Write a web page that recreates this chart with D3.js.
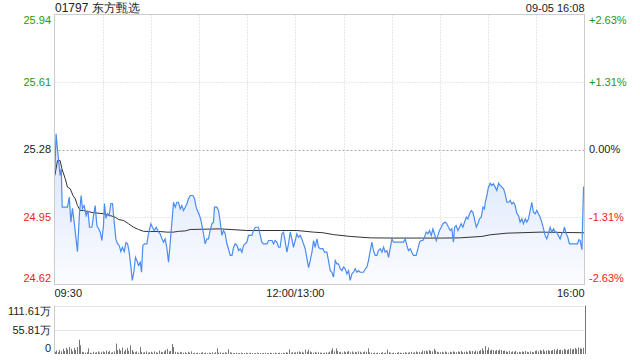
<!DOCTYPE html>
<html>
<head>
<meta charset="utf-8">
<script src="https://cdn.jsdelivr.net/npm/d3@7"></script>
<style>
  body { margin: 0; background: #fff; }
  svg { display: block; font-family: "Liberation Sans", Arial, sans-serif; }
</style>
</head>
<body>
<div id="chart"></div>
<script>
// trading minutes since 09:30 (lunch break skipped), price
const pricePoints = [
  [0.2,25.169],[1.0,25.357],[1.8,25.285],[2.7,25.218],[3.5,25.153],[4.2,25.187],[4.8,24.998],[6.7,24.998],
  [8.1,24.998],[9.2,25.047],[10.2,24.925],[11.2,24.992],[12.5,24.908],[14.3,24.781],[15.6,24.973],[16.6,25.055],
  [17.4,24.992],[18.5,25.006],[19.7,24.957],[20.8,24.982],[21.8,24.900],[23.3,24.900],[24.3,24.957],[25.3,25.006],
  [26.4,24.908],[27.4,24.894],[28.5,24.876],[29.5,24.835],[30.5,24.908],[31.1,25.016],[32.0,24.943],[33.0,24.967],
  [34.0,24.957],[35.1,25.016],[36.1,25.016],[37.2,24.925],[38.2,24.843],[39.2,24.820],[40.3,24.811],[41.3,24.781],
  [42.3,24.802],[43.4,24.781],[44.5,24.825],[45.5,24.819],[46.5,24.778],[47.6,24.705],[48.4,24.640],[49.4,24.680],
  [50.4,24.753],[51.3,24.737],[52.3,24.713],[53.4,24.729],[54.2,24.680],[55.0,24.811],[56.0,24.819],[57.5,24.819],
  [58.5,24.868],[60.0,24.917],[61.0,24.900],[62.1,24.884],[63.3,24.900],[64.8,24.876],[65.8,24.868],[66.9,24.843],
  [67.9,24.827],[68.9,24.843],[70.0,24.795],[71.0,24.729],[72.0,24.819],[73.1,24.925],[74.1,25.022],[75.2,24.998],
  [76.2,25.022],[77.2,25.022],[78.3,24.990],[79.3,25.006],[80.3,24.982],[81.4,24.998],[82.4,25.014],[83.4,25.039],
  [84.5,25.055],[86.2,25.055],[87.2,25.039],[88.2,24.998],[89.0,24.982],[90.3,24.957],[91.2,24.933],[92.0,24.900],
  [92.8,24.868],[93.8,24.819],[94.9,24.843],[95.9,24.843],[96.9,24.884],[98.0,24.917],[99.0,24.925],[99.6,24.998],
  [101.1,24.998],[102.1,24.982],[103.2,24.925],[104.2,24.860],[105.2,24.884],[106.3,24.868],[107.3,24.819],[108.3,24.795],
  [109.4,24.762],[110.5,24.762],[111.5,24.802],[112.5,24.819],[113.6,24.811],[114.6,24.786],[115.6,24.795],[116.7,24.778],
  [117.7,24.811],[118.7,24.819],[119.8,24.827],[120.8,24.860],[122.9,24.860],[123.9,24.884],[125.0,24.900],[127.0,24.900],
  [128.1,24.860],[129.1,24.827],[130.1,24.819],[132.3,24.819],[133.3,24.835],[135.4,24.835],[136.4,24.819],[137.4,24.835],
  [138.5,24.827],[139.5,24.802],[140.5,24.802],[141.6,24.868],[142.6,24.876],[143.7,24.827],[144.7,24.778],[145.7,24.819],
  [146.8,24.876],[147.8,24.843],[148.8,24.802],[149.9,24.835],[150.9,24.868],[151.9,24.851],[153.0,24.860],[154.0,24.843],
  [155.0,24.819],[156.1,24.795],[157.2,24.746],[158.2,24.702],[159.2,24.737],[160.3,24.778],[161.3,24.835],[162.3,24.802],
  [163.4,24.843],[164.4,24.802],[165.4,24.795],[167.1,24.795],[168.1,24.778],[169.6,24.778],[170.6,24.737],[171.7,24.688],
  [172.7,24.680],[173.7,24.656],[174.8,24.737],[175.8,24.721],[176.8,24.721],[177.9,24.697],[179.0,24.688],[180.0,24.705],
  [181.0,24.697],[182.1,24.672],[183.1,24.688],[184.1,24.640],[185.2,24.672],[186.2,24.680],[187.2,24.697],[188.3,24.680],
  [189.3,24.688],[190.3,24.680],[192.4,24.680],[193.5,24.697],[194.5,24.705],[195.5,24.737],[196.6,24.786],[197.6,24.827],
  [198.6,24.786],[199.7,24.762],[200.7,24.762],[201.7,24.786],[202.8,24.795],[203.9,24.778],[204.9,24.802],[205.9,24.778],
  [207.0,24.786],[208.0,24.753],[209.0,24.795],[210.1,24.843],[211.1,24.827],[217.3,24.827],[218.4,24.843],[219.4,24.811],
  [220.4,24.786],[221.5,24.795],[222.5,24.778],[223.5,24.762],[225.2,24.762],[226.3,24.795],[227.3,24.827],[228.3,24.835],
  [229.4,24.835],[230.4,24.851],[231.4,24.876],[232.5,24.868],[233.5,24.884],[234.6,24.860],[235.6,24.892],[236.6,24.868],
  [237.7,24.835],[238.7,24.860],[239.7,24.884],[240.8,24.900],[241.8,24.917],[243.3,24.925],[244.3,24.917],[245.3,24.900],
  [246.4,24.884],[247.4,24.892],[248.4,24.827],[249.1,24.900],[250.1,24.908],[251.2,24.884],[252.2,24.900],[253.2,24.917],
  [254.3,24.900],[255.3,24.925],[256.4,24.949],[257.4,24.941],[258.4,24.966],[259.5,24.982],[260.5,24.973],[261.5,24.941],
  [262.6,24.900],[263.6,24.917],[264.6,24.941],[265.7,24.949],[266.8,24.998],[267.7,24.990],[268.2,25.022],[269.2,25.055],
  [270.2,25.096],[271.3,25.115],[272.3,25.104],[273.3,25.112],[274.4,25.096],[275.4,25.080],[276.5,25.115],[277.5,25.104],
  [278.6,25.096],[279.6,25.088],[280.6,25.063],[281.7,25.022],[282.7,25.022],[283.7,25.031],[284.8,25.014],[285.8,25.022],
  [286.8,25.006],[287.9,24.966],[288.9,24.957],[289.9,24.925],[291.0,24.941],[292.0,24.917],[293.1,24.941],[294.1,24.925],
  [295.1,24.941],[296.2,24.982],[297.2,25.022],[298.2,24.973],[299.3,24.966],[300.3,24.982],[301.3,24.966],[302.4,24.949],
  [303.4,24.925],[304.5,24.892],[305.5,24.860],[306.5,24.843],[307.5,24.868],[308.6,24.900],[309.6,24.876],[310.7,24.892],
  [311.7,24.876],[312.7,24.876],[313.7,24.860],[314.8,24.843],[315.8,24.868],[316.8,24.876],[317.5,24.900],[318.6,24.868],
  [319.6,24.851],[320.6,24.819],[325.6,24.819],[326.5,24.839],[327.3,24.835],[328.4,24.790],[329.4,25.096],[330,25.096]
];

// running average price
const avgPoints = [
  [0.2,25.153],[1.9,25.226],[3.5,25.226],[4.6,25.186],[6.7,25.137],[8.1,25.096],[9.8,25.088],[11.5,25.055],
  [12.9,25.039],[14.3,25.006],[16.0,24.982],[18.1,24.982],[20.2,24.977],[24.3,24.971],[30.5,24.966],[34.7,24.957],
  [37.8,24.949],[39.9,24.938],[43.0,24.933],[46.1,24.917],[49.2,24.900],[52.3,24.889],[55.4,24.880],[59.6,24.879],
  [65.8,24.879],[69.9,24.876],[74.1,24.876],[77.2,24.880],[81.4,24.882],[84.5,24.889],[103.2,24.892],[119.8,24.884],
  [140.5,24.884],[150.9,24.884],[161.3,24.876],[167.3,24.873],[173.6,24.864],[184.1,24.855],[196.6,24.848],[210.9,24.847],
  [227.7,24.847],[241.7,24.847],[252.2,24.848],[266.1,24.855],[271.3,24.863],[281.7,24.871],[302.4,24.876],[330,24.873]
];

// volume per minute, 万股 (last bar = closing auction)
const volumes = [
  5,8,4,9,6,12,7,14,10,16,
  12,6,14,9,16,33,20,5,4,3,
  4,13,3,2,5,3,4,6,3,5,
  6,4,8,5,7,3,4,6,24,9,
  12,8,15,6,10,14,7,20,9,5,
  4,6,3,16,5,3,4,6,3,4,
  5,3,6,4,3,8,5,4,6,9,
  12,6,7,23,16,5,4,3,5,4,
  3,4,2,5,3,6,2,3,2,3,
  2,3,4,2,3,2,3,2,4,2,
  4,13,3,4,2,3,4,3,11,4,
  3,2,2,3,2,2,3,2,2,3,
  2,2,3,2,2,2,3,2,2,2,
  2,3,2,2,3,2,2,3,2,2,
  3,2,3,2,4,3,11,3,4,3,
  4,5,6,4,5,3,10,5,10,6,
  4,3,5,3,4,3,3,2,3,4,
  3,5,8,13,6,13,7,4,5,3,
  6,4,5,7,4,6,3,5,4,6,
  5,3,4,6,5,13,4,3,2,3,
  2,3,2,3,4,2,3,10,4,3,
  2,3,2,3,4,3,2,3,4,3,
  3,4,5,3,4,6,4,5,4,8,
  7,8,6,9,7,6,12,8,5,4,
  4,5,3,6,4,3,5,4,6,5,
  4,6,5,7,4,5,6,4,8,6,
  7,5,8,6,7,9,13,8,18,9,
  15,8,10,9,7,9,8,10,9,7,
  8,6,5,7,4,6,5,7,4,5,
  4,6,5,7,5,4,6,5,4,7,
  8,6,9,7,10,6,8,9,7,8,
  9,11,8,12,9,10,8,12,10,9,
  11,13,10,12,14,11,15,13,12,14,
  111.61
];

const priceTicks = [25.94, 25.61, 25.28, 24.95, 24.62];
const pctLabels = ["+2.63%", "+1.31%", "0.00%", "-1.31%", "-2.63%"];
const volTicks = [111.61, 55.81, 0];
const volLabels = ["111.61万", "55.81万", "0"];
const timeTicks = [0, 150, 330];
const timeLabels = ["09:30", "12:00/13:00", "16:00"];
const title = "01797 东方甄选";
const stamp = "09-05 16:08";

const width = 640, height = 360;
const plotLeft = 54.5, plotRight = 584.5, plotTop = 14.5, plotBottom = 284.5;
const vTop = 305.5, vBottom = 354;

const green = "#1a9a1a", red = "#ee2222", dark = "#222";
const tickColor = (i) => i < 2 ? green : (i === 2 ? dark : red);

const x = d3.scaleLinear().domain([0, 330]).range([plotLeft, plotRight]);
const y = d3.scaleLinear().domain([24.62, 25.94]).range([plotBottom, plotTop]);
const yv = d3.scaleLinear().domain([0, 111.61]).range([vBottom, vTop]);

const svg = d3.select("#chart").append("svg")
    .attr("width", width)
    .attr("height", height);

const defs = svg.append("defs");
const grad = defs.append("linearGradient")
    .attr("id", "fillGrad")
    .attr("x1", 0).attr("y1", 0).attr("x2", 0).attr("y2", 1);
grad.append("stop").attr("offset", "0%").attr("stop-color", "#d6e4fb");
grad.append("stop").attr("offset", "100%").attr("stop-color", "#fbfcff");

// header
svg.append("text")
    .attr("x", 55).attr("y", 12)
    .style("font-size", "12px").style("fill", "#222")
    .text(title);
svg.append("text")
    .attr("x", plotRight).attr("y", 12)
    .attr("text-anchor", "end")
    .style("font-size", "11px").style("fill", "#222")
    .text(stamp);

// grid
const grid = svg.append("g");
d3.range(30, 330, 30).forEach(t => {
    grid.append("line")
        .attr("x1", Math.round(x(t)) + 0.5).attr("x2", Math.round(x(t)) + 0.5)
        .attr("y1", plotTop).attr("y2", plotBottom)
        .attr("stroke", "#d0d0d0").attr("stroke-dasharray", "1,2");
});
priceTicks.slice(1, 4).forEach((p, i) => {
    grid.append("line")
        .attr("x1", plotLeft).attr("x2", plotRight)
        .attr("y1", Math.round(y(p)) + 0.5).attr("y2", Math.round(y(p)) + 0.5)
        .attr("stroke", i === 1 ? "#aaa" : "#d0d0d0")
        .attr("stroke-dasharray", i === 1 ? "2,2" : "1,2");
});

// watermark
svg.append("text")
    .attr("x", plotRight - 12).attr("y", plotBottom - 2)
    .attr("text-anchor", "end")
    .style("font-size", "12px").style("fill", "#d4d4d4")
    .text("sina.com");

// area + lines
const area = d3.area()
    .x(d => x(d[0]))
    .y0(plotBottom)
    .y1(d => y(d[1]));
svg.append("path")
    .datum(pricePoints)
    .attr("d", area)
    .attr("fill", "url(#fillGrad)");

const line = d3.line()
    .x(d => x(d[0]))
    .y(d => y(d[1]));
svg.append("path")
    .datum(avgPoints)
    .attr("d", line)
    .attr("fill", "none")
    .attr("stroke", "#333")
    .attr("stroke-width", 1);
svg.append("path")
    .datum(pricePoints)
    .attr("d", line)
    .attr("fill", "none")
    .attr("stroke", "#4b8cf0")
    .attr("stroke-width", 1.2);

// frame
svg.append("rect")
    .attr("x", plotLeft).attr("y", plotTop)
    .attr("width", plotRight - plotLeft).attr("height", plotBottom - plotTop)
    .attr("fill", "none").attr("stroke", "#ccc");

// price labels
const labelShift = (i, n) => i === 0 ? 6 : (i === n - 1 ? -6 : 0);
priceTicks.forEach((p, i) => {
    svg.append("text")
        .attr("x", 51).attr("y", y(p) + labelShift(i, priceTicks.length))
        .attr("dy", "0.35em")
        .attr("text-anchor", "end")
        .style("font-size", "11px").style("fill", tickColor(i))
        .text(p.toFixed(2));
    svg.append("text")
        .attr("x", 589).attr("y", y(p) + labelShift(i, priceTicks.length))
        .attr("dy", "0.35em")
        .style("font-size", "11px").style("fill", tickColor(i))
        .text(pctLabels[i]);
});

// time labels
timeTicks.forEach((t, i) => {
    svg.append("text")
        .attr("x", x(t))
        .attr("y", 297)
        .attr("text-anchor", i === 0 ? "start" : (i === 1 ? "middle" : "end"))
        .style("font-size", "11px").style("fill", "#222")
        .text(timeLabels[i]);
});

// volume panel
volTicks.slice(0, 2).forEach(v => {
    svg.append("line")
        .attr("x1", plotLeft).attr("x2", plotRight)
        .attr("y1", Math.round(yv(v)) + 0.5).attr("y2", Math.round(yv(v)) + 0.5)
        .attr("stroke", "#ccc").attr("stroke-dasharray", "1,1");
});
svg.append("line")
    .attr("x1", plotLeft).attr("x2", plotLeft)
    .attr("y1", vTop).attr("y2", vBottom)
    .attr("stroke", "#ccc");

svg.append("g")
    .selectAll("line")
    .data(volumes)
    .enter().append("line")
    .attr("x1", (d, i) => Math.round(x(i)) + 0.5)
    .attr("x2", (d, i) => Math.round(x(i)) + 0.5)
    .attr("y1", vBottom)
    .attr("y2", d => yv(d))
    .attr("stroke", "#777")
    .attr("stroke-width", 1);

volTicks.forEach((v, i) => {
    svg.append("text")
        .attr("x", 51).attr("y", yv(v) + (i === 0 ? 6 : (i === 2 ? -6 : 0)))
        .attr("dy", "0.35em")
        .attr("text-anchor", "end")
        .style("font-size", "11px").style("fill", "#222")
        .text(volLabels[i]);
});
</script>
</body>
</html>
